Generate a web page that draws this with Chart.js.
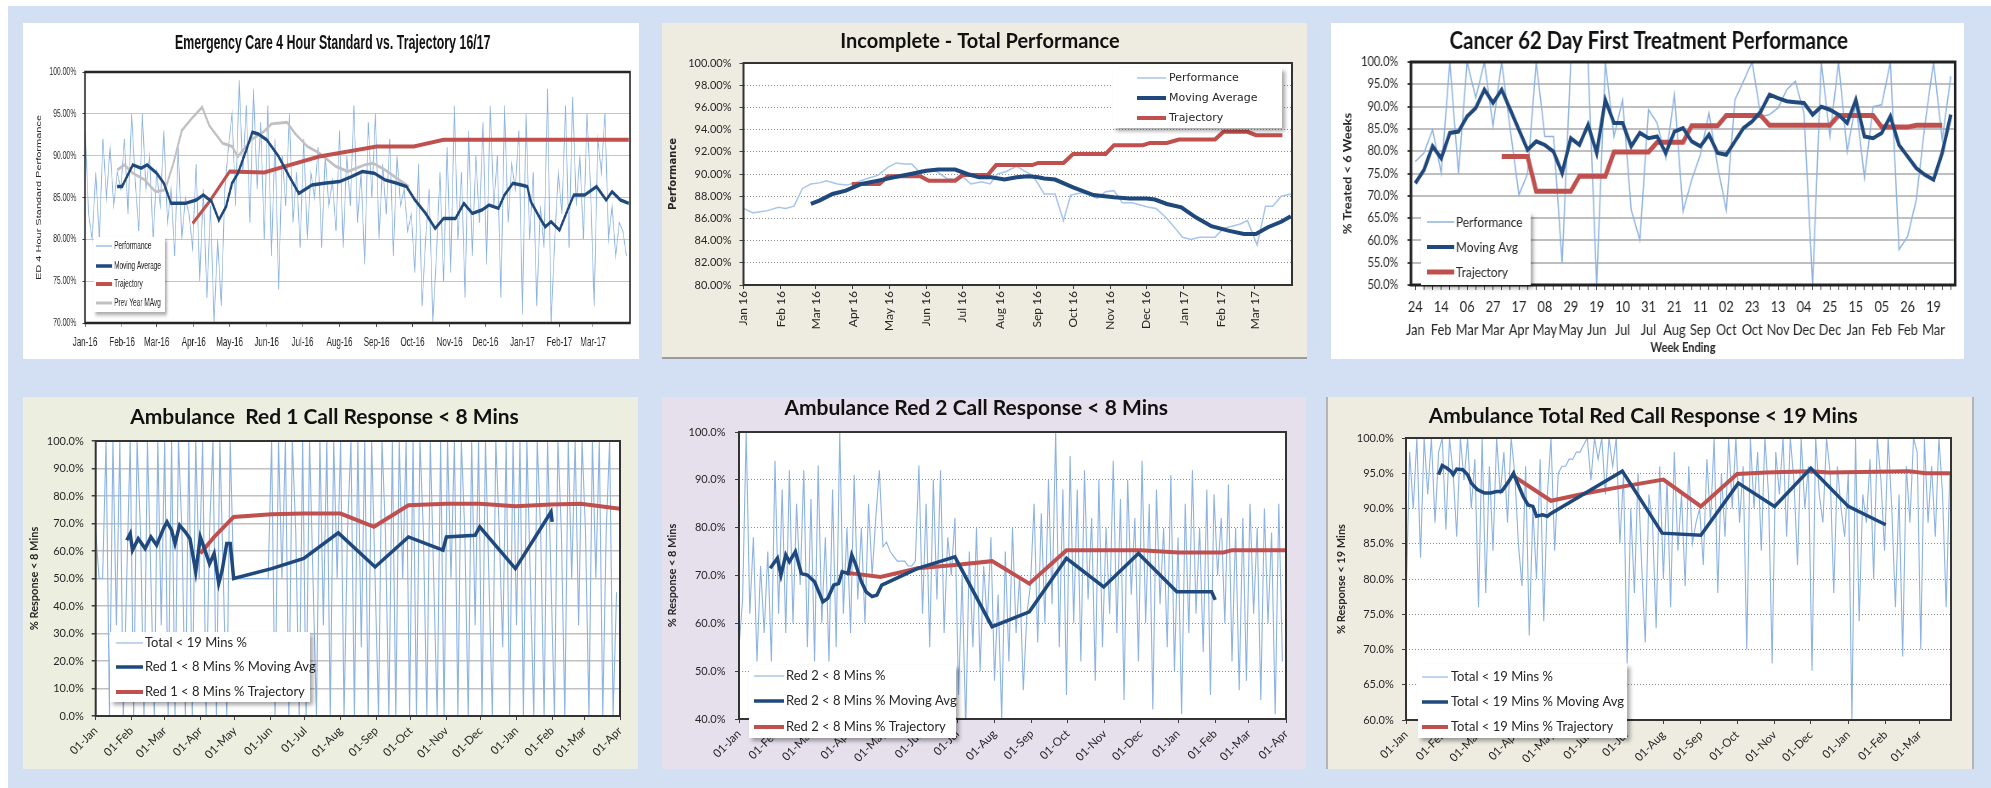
<!DOCTYPE html>
<html>
<head>
<meta charset="utf-8">
<title>Performance dashboard</title>
<script src="https://cdn.jsdelivr.net/npm/chart.js@4.4.0/dist/chart.umd.min.js"></script>
<style>
  body { margin: 0; background: #fff; width: 1991px; height: 788px; overflow: hidden; position: relative; }
  #sheet { position: absolute; left: 8px; top: 6px; right: 0; bottom: 0; background: #d3e0f3; }
  .panel { position: absolute; overflow: hidden; }
  .panel canvas { position: absolute; left: 0; top: 0; }
</style>
</head>
<body>
<div id="sheet"></div>
<div class="panel" style="left:23px;top:23px;width:616px;height:336px;background:#fff">
  <canvas id="edChart" width="994" height="336" style="width:616px;height:336px"></canvas></div>
<div class="panel" style="left:662px;top:23px;width:645px;height:334px;background:#eeece1;box-shadow:0 2px 0 #9c9c9c">
  <canvas id="incChart" width="645" height="334" style="width:645px;height:334px"></canvas></div>
<div class="panel" style="left:1331px;top:23px;width:633px;height:336px;background:#fff">
  <canvas id="cancerChart" width="772" height="336" style="width:656px;height:336px"></canvas></div>
<div class="panel" style="left:23px;top:397px;width:615px;height:372px;background:#ecefdf">
  <canvas id="red1Chart" width="615" height="372" style="width:615px;height:372px"></canvas></div>
<div class="panel" style="left:662px;top:397px;width:644px;height:372px;background:#e6e0ec">
  <canvas id="red2Chart" width="644" height="372" style="width:644px;height:372px"></canvas></div>
<div class="panel" style="left:1328px;top:397px;width:644px;height:372px;background:#eeece1;box-shadow:-2px 0 0 #b4b4b4, 2px 0 0 #b4b4b4">
  <canvas id="totalChart" width="644" height="372" style="width:644px;height:372px"></canvas></div>

<script>
// Day offsets of each month start from 1 Jan 2016 (Jan 16 .. Apr 17)
const monthStarts = [0, 31, 60, 91, 121, 152, 182, 213, 244, 274, 305, 335, 366, 397, 425, 456];
const edMonths = ['Jan-16', 'Feb-16', 'Mar-16', 'Apr-16', 'May-16', 'Jun-16', 'Jul-16', 'Aug-16', 'Sep-16', 'Oct-16', 'Nov-16', 'Dec-16', 'Jan-17', 'Feb-17', 'Mar-17'];
const incMonths = ['Jan 16', 'Feb 16', 'Mar 16', 'Apr 16', 'May 16', 'Jun 16', 'Jul 16', 'Aug 16', 'Sep 16', 'Oct 16', 'Nov 16', 'Dec 16', 'Jan 17', 'Feb 17', 'Mar 17'];
const ambMonths = ['01-Jan', '01-Feb', '01-Mar', '01-Apr', '01-May', '01-Jun', '01-Jul', '01-Aug', '01-Sep', '01-Oct', '01-Nov', '01-Dec', '01-Jan', '01-Feb', '01-Mar', '01-Apr'];

// Emergency care 4 hour standard (daily performance sampled every 3 days)
const edPerf = [94, 83, 80, 88, 80, 92, 85, 91, 84, 88, 86, 92, 83, 95, 87, 81, 95, 86, 90, 80, 88,
  84, 93, 82, 86, 78, 91, 80, 85, 83, 79, 89, 75, 86, 73, 84, 70, 80, 72, 86, 91,
  95, 84, 99, 88, 96, 82, 98, 86, 94, 80, 96, 78, 92, 74, 90, 84, 95, 82, 88, 79,
  92, 80, 88, 85, 91, 79, 90, 84, 87, 81, 93, 79, 90, 84, 96, 82, 88, 77, 94, 85,
  95, 80, 89, 83, 92, 78, 90, 84, 86, 81, 83, 76, 89, 72, 80, 86, 70, 78, 88, 75,
  91, 76, 96, 80, 88, 73, 93, 78, 90, 82, 94, 77, 96, 84, 90, 73, 96, 82, 89, 86,
  93, 71, 95, 80, 88, 72, 84, 79, 98, 70, 80, 88, 83, 96, 79, 97, 84, 90, 80,
  95, 86, 72, 92, 88, 95, 80, 84, 78, 82, 81, 78];
const edMovingAvg = [[27, 86.3], [31, 86.3], [40, 88.9], [47, 88.5], [52, 88.9], [60, 87.9], [66, 86.7], [72, 84.3], [84, 84.3], [93, 84.7],
  [99, 85.3], [106, 84.5], [112, 82.3], [118, 83.9], [123, 86.7], [128, 87.9], [135, 90.7], [140, 92.8], [145, 92.6], [152, 91.9],
  [162, 89.9], [171, 87.5], [179, 85.5], [190, 86.5], [200, 86.7], [213, 86.9], [223, 87.5], [232, 88.1], [242, 87.9], [251, 87.1],
  [261, 86.7], [269, 86.3], [276, 84.7], [285, 83.1], [293, 81.3], [300, 82.5], [310, 82.5], [317, 84.3], [324, 83.1], [332, 83.5],
  [338, 84.1], [346, 83.7], [351, 85.3], [358, 86.7], [365, 86.5], [370, 86.3], [373, 84.5], [380, 82.7], [385, 81.5], [390, 82.1],
  [397, 81.1], [406, 84.3], [409, 85.3], [418, 85.3], [428, 86.3], [436, 84.7], [441, 85.7], [448, 84.7], [455, 84.3]];
const edTrajectory = [[90, 81.9], [104, 84.5], [121, 88.1], [150, 88.0], [162, 88.5], [196, 89.9], [244, 91.1], [275, 91.1], [300, 91.9], [455, 91.9]];
const edPrevYear = [[27, 88.3], [33, 88.9], [40, 87.9], [50, 87.1], [59, 85.7], [67, 85.9], [74, 89.1], [81, 93.0], [89, 94.4], [98, 95.8],
  [104, 93.6], [115, 91.5], [123, 91.1], [128, 89.9], [139, 91.9], [149, 92.8], [156, 93.8], [169, 94.0], [176, 92.6], [186, 91.1],
  [196, 90.3], [210, 88.7], [220, 88.1], [234, 88.9], [241, 89.1], [251, 88.3], [261, 87.3], [271, 86.3]];

// Incomplete - total performance (weekly)
const incPerf = [[0, 86.9], [8, 86.5], [20, 86.7], [29, 87.0], [35, 86.9], [42, 87.1], [49, 88.7], [56, 89.1], [63, 89.2], [69, 89.4],
  [78, 89.1], [86, 89.0], [95, 89.3], [103, 89.6], [112, 89.9], [120, 90.6], [127, 91.0], [134, 90.9], [140, 90.9], [145, 90.3],
  [152, 90.4], [161, 90.2], [169, 89.6], [176, 89.5], [183, 89.7], [189, 89.1], [198, 89.3], [205, 89.1], [211, 90.0], [218, 90.2],
  [227, 90.7], [233, 90.3], [240, 89.9], [245, 89.1], [250, 88.2], [259, 88.2], [266, 85.8], [272, 88.1], [281, 88.3], [288, 88.1],
  [294, 87.8], [301, 88.4], [308, 88.5], [315, 87.4], [323, 87.4], [330, 87.2], [337, 87.0], [343, 86.9], [352, 86.0], [359, 85.1],
  [365, 84.3], [372, 84.1], [379, 84.3], [386, 84.3], [392, 84.3], [399, 85.1], [406, 85.3], [413, 85.5], [419, 85.8], [427, 83.6],
  [434, 87.1], [440, 87.1], [447, 88.0], [455, 88.2]];
const incMovingAvg = [[56, 87.3], [63, 87.6], [74, 88.2], [85, 88.5], [98, 89.1], [112, 89.4], [125, 89.7], [139, 90.0], [152, 90.3], [162, 90.4],
  [176, 90.4], [186, 90.0], [196, 89.7], [206, 89.7], [217, 89.5], [227, 89.7], [237, 89.8], [245, 89.7], [250, 89.6], [259, 89.5],
  [274, 88.8], [291, 88.1], [308, 87.9], [321, 87.8], [335, 87.8], [342, 87.7], [352, 87.3], [364, 87.0], [376, 86.1], [389, 85.3],
  [403, 84.9], [416, 84.6], [426, 84.6], [436, 85.2], [447, 85.7], [455, 86.2]];
const incTrajectory = [[90, 89.1], [113, 89.1], [120, 89.8], [147, 89.8], [154, 89.4], [176, 89.4], [182, 89.9], [203, 89.9], [210, 90.8], [240, 90.8],
  [245, 91.0], [266, 91.0], [274, 91.8], [301, 91.8], [308, 92.6], [332, 92.6], [338, 92.8], [352, 92.8], [362, 93.1], [392, 93.1],
  [399, 93.8], [419, 93.8], [426, 93.5], [448, 93.5]];

// Cancer 62 day first treatment (week ending 24 Jan 16 onwards)
const cancerDays = ['24', '14', '06', '27', '17', '08', '29', '19', '10', '31', '21', '11', '02', '23', '13', '04', '25', '15', '05', '26', '19'];
const cancerMonths = ['Jan', 'Feb', 'Mar', 'Mar', 'Apr', 'May', 'May', 'Jun', 'Jul', 'Jul', 'Aug', 'Sep', 'Oct', 'Oct', 'Nov', 'Dec', 'Dec', 'Jan', 'Feb', 'Feb', 'Mar'];
const cancerPerf = [77.7, 79.6, 84.8, 75.1, 100, 75, 100, 92, 100, 85.6,
  100, 84.8, 70.2, 75, 100, 83.3, 83.3, 54.9, 100, 100,
  100, 50, 100, 83.3, 91.5, 66.8, 60.1, 89.3, 86.3, 78.4,
  92.7, 66.5, 73.6, 79.2, 88.5, 76.6, 66.8, 91.5, 95.7, 100,
  87.8, 88.2, 89.7, 93.8, 95.7, 88.5, 50, 100, 83.3, 100,
  79.9, 90.8, 74, 90, 90.4, 100, 57.9, 60.9, 69.1, 85.9,
  100, 82.6, 96.8];
const cancerMovingAvg = [72.8, 75.8, 81.1, 78.4, 84.1, 84.4, 87.8, 89.7, 93.8, 90.8,
  93.8, 89.3, 84.8, 80.3, 82.2, 81.4, 79.9, 75.1, 82.9, 81.4,
  85.9, 79.6, 91.5, 86.3, 86.3, 81.1, 84.1, 82.9, 83.3, 79.6,
  84.4, 85.2, 82.2, 81.1, 83.7, 79.6, 79.2, 82.2, 85.2, 86.7,
  88.9, 92.7, 91.9, 91.2, 91, 90.8, 88.2, 90, 89.3, 88.2,
  86.3, 91.5, 83.3, 82.9, 84.1, 87.8, 81.4, 78.8, 76.2, 74.7,
  73.6, 79.6, 88.2];
const cancerTrajectory = [null, null, null, null, null, null, null, null, null, null,
  78.8, 78.8, 78.8, 78.8, 71, 71, 71, 71, 71, 74.4,
  74.4, 74.4, 74.4, 79.8, 79.8, 79.8, 79.8, 79.8, 82, 82,
  82, 82, 85.7, 85.7, 85.7, 85.7, 88, 88, 88, 88,
  88, 85.8, 85.8, 85.8, 85.8, 85.8, 85.8, 85.8, 85.8, 88,
  88, 88, 88, 88, 85.4, 85.4, 85.4, 85.4, 85.8, 85.8,
  85.8, 85.8, null];

// Ambulance Red 1 (daily, sampled every 3 days)
const red1Perf = [67, 50, 50, 100, 0, 100, 33, 100, 0, 50, 100,
  0, 100, 67, 0, 100, 50, 0, 100, 33, 100,
  0, 100, 0, 100, 67, 0, 100, 0, 100, 50,
  100, 0, 67, 100, 0, 100, 50, 0, 100, 50,
  50, 50, 50, 50, 50, 50, 50, 50, 50, 50,
  100, 0, 100, 50, 100, 0, 100, 67, 0, 100,
  0, 100, 50, 0, 100, 33, 100, 0, 100, 50,
  100, 0, 67, 100, 0, 100, 25, 100, 0, 100,
  50, 0, 100, 67, 0, 100, 0, 100, 50, 100,
  0, 100, 0, 100, 67, 0, 100, 50, 0, 100,
  0, 100, 50, 100, 0, 100, 67, 0, 100, 33,
  100, 0, 100, 50, 0, 100, 67, 25, 100, 0,
  100, 33, 100, 0, 100, 50, 0, 100, 67, 0,
  100, 50, 0, 100, 67, 0, 100, 50, 100, 33,
  100, 67, 0, 100, 50, 100, 0, 67, 100, 0, 45];
const red1MovingAvg = [[27, 63.9], [30, 66.3], [32, 60.3], [37, 64.5], [43, 60.9], [48, 65.1], [53, 62.1], [59, 68.2], [62, 70.6], [66, 67.6],
  [69, 62.7], [73, 69.4], [78, 66.9], [82, 64.5], [87, 52.4], [91, 65.1], [94, 61.5], [99, 55.4], [103, 59.1], [107, 48.2],
  [110, 53], [114, 62.7], [117, 62.7], [120, 50], [153, 53.6], [181, 57.3], [211, 66.6], [243, 54.2], [272, 65.1], [302, 60.3],
  [305, 65.1], [330, 65.7], [334, 68.8], [365, 53.6], [396, 74.2], [397, 70.6]];
const red1Trajectory = [[91, 59.1], [103, 65.1], [120, 72.4], [153, 73.4], [181, 73.6], [213, 73.6], [242, 68.8], [272, 76.6], [305, 77.2], [334, 77.2],
  [365, 76.3], [396, 76.9], [422, 77.2], [456, 75.4]];

// Ambulance Red 2 (daily, sampled every 3 days)
const red2Perf = [55, 65, 100, 62, 78, 52, 72, 58, 75, 52, 94,
  62, 88, 58, 92, 60, 85, 68, 92, 55, 86,
  52, 93, 60, 78, 52, 88, 55, 100, 62, 80,
  58, 91, 65, 80, 60, 85, 70, 82, 92, 76,
  77, 75, 74, 73, 73, 73, 72, 72, 73, 93,
  62, 85, 55, 90, 65, 92, 58, 78, 70, 82,
  45, 70, 38, 75, 55, 80, 50, 72, 60, 78,
  48, 66, 40, 75, 52, 80, 58, 70, 46, 62,
  68, 85, 56, 83, 60, 90, 64, 100, 55, 88,
  45, 95, 60, 88, 52, 92, 65, 82, 48, 90,
  55, 80, 62, 94, 58, 86, 44, 90, 66, 82,
  52, 94, 60, 85, 42, 88, 64, 80, 55, 91,
  50, 78, 41, 85, 58, 92, 62, 80, 54, 88,
  45, 87, 70, 82, 60, 89, 52, 80, 46, 82,
  48, 85, 62, 80, 44, 84, 60, 79, 41, 85, 52];
const red2MovingAvg = [[26, 71.5], [32, 73.6], [35, 70.1], [39, 74.3], [42, 72.9], [47, 75.0], [52, 70.4], [57, 70.1], [63, 68.7], [70, 64.5],
  [74, 65.2], [79, 68.0], [83, 68.3], [86, 70.8], [91, 70.4], [94, 74.3], [97, 72.5], [102, 68.7], [106, 66.6], [111, 65.6],
  [115, 65.9], [119, 68.0], [149, 71.5], [180, 73.9], [211, 59.3], [242, 62.4], [273, 73.6], [304, 67.6], [333, 74.6], [365, 66.6],
  [394, 66.6], [397, 64.9]];
const red2Trajectory = [[89, 70.6], [118, 69.7], [149, 71.5], [180, 72.2], [211, 73.0], [242, 68.3], [273, 75.3], [335, 75.3], [366, 74.8], [404, 74.8],
  [411, 75.3], [456, 75.3]];

// Ambulance total red < 19 mins (daily, sampled every 3 days)
const totalPerf = [76, 98, 90, 100, 83, 100, 92, 100, 88, 98, 100,
  87, 100, 95, 86, 100, 94, 100, 90, 97, 76,
  100, 78, 96, 84, 100, 92, 98, 88, 100, 95,
  85, 79, 96, 72, 90, 80, 97, 74, 92, 100,
  84, 95, 96, 96, 97, 97, 98, 98, 99, 100,
  94, 100, 97, 100, 92, 100, 96, 100, 85, 95,
  68, 90, 78, 95, 82, 71, 92, 88, 73, 96,
  80, 94, 76, 98, 84, 92, 79, 96, 85, 88,
  90, 82, 97, 88, 100, 78, 95, 86, 100, 90,
  100, 88, 96, 70, 100, 90, 98, 84, 100, 92,
  68, 98, 92, 100, 86, 100, 94, 82, 100, 90,
  96, 67, 100, 92, 88, 100, 95, 78, 96, 90,
  86, 95, 60, 100, 74, 92, 88, 97, 80, 100,
  94, 84, 100, 90, 76, 92, 69, 96, 88, 100,
  98, 70, 100, 88, 96, 86, 100, 92, 76, 95];
const totalMovingAvg = [[27, 94.8], [30, 96.1], [34, 95.7], [37, 95.3], [39, 94.8], [42, 95.6], [47, 95.5], [51, 94.8], [54, 93.6], [59, 92.7],
  [65, 92.2], [70, 92.2], [75, 92.4], [79, 92.4], [82, 93.1], [86, 94.1], [89, 95.0], [92, 93.7], [97, 91.7], [101, 90.5],
  [105, 90.3], [108, 88.9], [113, 89.1], [117, 88.9], [120, 89.3], [179, 95.3], [212, 86.5], [244, 86.2], [275, 93.6], [305, 90.3],
  [335, 95.7], [366, 90.3], [397, 87.7]];
const totalTrajectory = [[89, 94.6], [120, 91.1], [150, 92.2], [179, 93.1], [213, 94.1], [244, 90.3], [274, 94.9], [298, 95.1], [335, 95.3], [350, 95.1],
  [416, 95.3], [430, 95.0], [451, 95.0]];

const LIGHT = '#8db3e2', DARK = '#1f497d', RED = '#c0504d', GREY = '#c0c0c0', INK = '#262626';

function pairs(list) { return list.map(p => ({ x: p[0], y: p[1] })); }
function everyThird(vals) { return vals.map((v, i) => ({ x: i * 3, y: v })); }

function lineSet(label, data, color, width, order) {
  return { label, data, borderColor: color, backgroundColor: color, borderWidth: width,
    pointRadius: 0, tension: 0, fill: false, order, clip: 0 };
}

// white plot area + dark frame
const plotFrame = {
  id: 'plotFrame',
  beforeDraw(chart) {
    const a = chart.chartArea, ctx = chart.ctx;
    ctx.save();
    ctx.fillStyle = '#fff';
    ctx.fillRect(a.left, a.top, a.right - a.left, a.bottom - a.top);
    ctx.restore();
  },
  afterDatasetsDraw(chart, args, opts) {
    const a = chart.chartArea, ctx = chart.ctx;
    ctx.save();
    ctx.strokeStyle = opts.color || '#333';
    ctx.lineWidth = opts.width || 1.5;
    ctx.strokeRect(a.left, a.top, a.right - a.left, a.bottom - a.top);
    ctx.restore();
  }
};

// Excel style legend box drawn over the lines
const boxLegend = {
  id: 'boxLegend',
  afterDraw(chart, args, o) {
    if (!o.box) return;
    const ctx = chart.ctx;
    const [bx, by, bw, bh] = o.box;
    ctx.save();
    ctx.shadowColor = 'rgba(0,0,0,0.35)';
    ctx.shadowBlur = 4;
    ctx.shadowOffsetX = 3;
    ctx.shadowOffsetY = 3;
    ctx.fillStyle = '#fff';
    ctx.fillRect(bx, by, bw, bh);
    ctx.restore();
    ctx.save();
    ctx.font = o.font;
    ctx.textBaseline = 'middle';
    ctx.fillStyle = INK;
    chart.data.datasets.forEach((ds, i) => {
      const y = o.rows[i];
      ctx.strokeStyle = ds.borderColor;
      ctx.lineWidth = ds.borderWidth;
      ctx.beginPath();
      ctx.moveTo(o.line[0], y);
      ctx.lineTo(o.line[1], y);
      ctx.stroke();
      ctx.fillText(ds.label, o.textX, y);
    });
    ctx.restore();
  }
};

Chart.register(plotFrame, boxLegend);

function monthAxis(labels, max, c) {
  return {
    type: 'linear', min: 0, max: max,
    afterBuildTicks: s => { s.ticks = monthStarts.slice(0, labels.length).map(v => ({ value: v })); },
    afterFit: s => { s.height = c.height; },
    ticks: { autoSkip: false, callback: (v, i) => labels[i], font: c.font, color: INK,
      padding: c.padding, minRotation: c.rot, maxRotation: c.rot },
    grid: { drawOnChartArea: false, drawTicks: true, tickLength: 4, tickColor: '#404040' },
    border: { display: false }
  };
}

function pctAxis(min, max, step, dec, c) {
  return {
    min: min, max: max,
    afterFit: s => { s.width = c.width; },
    ticks: { stepSize: step, callback: v => v.toFixed(dec) + '%', font: c.font, color: INK, padding: c.padding },
    grid: { color: c.gridColor, lineWidth: c.gridWidth, drawTicks: true, tickLength: 4, tickColor: '#404040', tickBorderDash: [] },
    border: { display: false, dash: c.dash || [] },
    title: { display: true, text: c.title, font: c.titleFont, color: INK, padding: 0 }
  };
}

function chartOptions(o) {
  return {
    responsive: false, animation: false, events: [], devicePixelRatio: 1,
    layout: { padding: o.padding },
    plugins: {
      legend: { display: false },
      tooltip: { enabled: false },
      title: { display: true, text: o.title, color: '#111', font: o.titleFont, padding: o.titlePad },
      plotFrame: o.frame || {},
      boxLegend: o.legend
    },
    scales: { x: o.x, y: o.y }
  };
}

const ARIAL = "'Liberation Sans', Arial, sans-serif";
const LATO = "Lato, 'Noto Sans', sans-serif";

// Panel 1 - drawn wide, squeezed by CSS to look condensed
new Chart(document.getElementById('edChart'), {
  type: 'line',
  data: { datasets: [
    lineSet('Performance', everyThird(edPerf), LIGHT, 1.3, 4),
    lineSet('Moving Average', pairs(edMovingAvg), DARK, 3.5, 1),
    lineSet('Trajectory', pairs(edTrajectory), RED, 4, 2),
    lineSet('Prev Year MAvg', pairs(edPrevYear), GREY, 3, 3)
  ] },
  options: chartOptions({
    padding: { left: 20, right: 14.5, top: 0, bottom: 0 },
    title: 'Emergency Care 4 Hour Standard vs. Trajectory 16/17',
    titleFont: { family: ARIAL, size: 20, weight: 'bold', lineHeight: 1 },
    titlePad: { top: 10, bottom: 19 },
    frame: { color: '#262626', width: 2.5 },
    legend: { box: [114, 214, 115, 75], rows: [223, 243, 261, 280], line: [118, 144], textX: 147, font: "10.5px " + ARIAL },
    x: monthAxis(edMonths, 456, { height: 36, font: { family: ARIAL, size: 13 }, padding: 8, rot: 0 }),
    y: pctAxis(70, 100, 5, 2, { width: 80, font: { family: ARIAL, size: 11 }, padding: 10,
      gridColor: '#c6c6c6', gridWidth: 1, title: 'ED 4 Hour Standard Performance',
      titleFont: { family: ARIAL, size: 11, lineHeight: 1 } })
  })
});

// Panel 2
new Chart(document.getElementById('incChart'), {
  type: 'line',
  data: { datasets: [
    lineSet('Performance', pairs(incPerf), '#a7c6ea', 1.5, 3),
    lineSet('Moving Average', pairs(incMovingAvg), DARK, 4, 1),
    lineSet('Trajectory', pairs(incTrajectory), RED, 4, 2)
  ] },
  options: chartOptions({
    padding: { left: 6, right: 15, top: 0, bottom: 0 },
    title: 'Incomplete - Total Performance',
    titleFont: { family: LATO, size: 20, weight: 'bold', lineHeight: 1 },
    titlePad: { top: 9, bottom: 11 },
    frame: { color: '#333', width: 2 },
    legend: { box: [451, 45, 169, 60], rows: [55, 75, 95], line: [475, 504], textX: 507, font: "11px 'DejaVu Sans'" },
    x: monthAxis(incMonths, 456, { height: 72, font: { family: LATO, size: 12 }, padding: 2, rot: 90 }),
    y: pctAxis(80, 100, 2, 2, { width: 75.5, font: { family: LATO, size: 11 }, padding: 8,
      gridColor: '#8c8c8c', gridWidth: 1, dash: [1, 2], title: 'Performance',
      titleFont: { family: "'DejaVu Sans'", size: 10, weight: 'bold', lineHeight: 1 } })
  })
});

// Panel 3 - weekly category axis, slightly condensed
const cancerWeeks = cancerPerf.map((v, i) => i % 3 === 0 ? [cancerDays[i / 3], cancerMonths[i / 3]] : '');
new Chart(document.getElementById('cancerChart'), {
  type: 'line',
  data: { labels: cancerWeeks, datasets: [
    lineSet('Performance', cancerPerf, LIGHT, 1.5, 3),
    lineSet('Moving Avg', cancerMovingAvg, DARK, 4, 1),
    lineSet('Trajectory', cancerTrajectory, RED, 5, 2)
  ] },
  options: chartOptions({
    padding: { left: 13.5, right: 37.5, top: 0, bottom: 0 },
    title: 'Cancer 62 Day First Treatment Performance',
    titleFont: { family: LATO, size: 24, weight: 'bold', lineHeight: 1 },
    titlePad: { top: 6, bottom: 9 },
    frame: { color: '#222', width: 3 },
    legend: { box: [106, 190, 129, 72], rows: [199, 224, 249], line: [113, 145], textX: 147, font: "14px " + LATO },
    x: {
      type: 'category', offset: true,
      afterFit: s => { s.height = 74; },
      ticks: { autoSkip: false, minRotation: 0, maxRotation: 0, color: INK, padding: 6,
        font: { family: LATO, size: 15, lineHeight: 1.5 } },
      grid: { drawOnChartArea: false, tickLength: 5, tickColor: '#404040' },
      border: { display: false },
      title: { display: true, text: 'Week Ending', color: INK,
        font: { family: LATO, size: 13, weight: 'bold', lineHeight: 1 }, padding: { top: 0, bottom: 4.5 } }
    },
    y: pctAxis(50, 100, 5, 1, { width: 80.6, font: { family: LATO, size: 13 }, padding: 11,
      gridColor: '#bfbfbf', gridWidth: 2, title: '% Treated < 6 Weeks',
      titleFont: { family: LATO, size: 13, weight: 'bold', lineHeight: 1 } })
  })
});

// Panels 4-6: ambulance response
function ambulanceChart(id, cfg) {
  new Chart(document.getElementById(id), {
    type: 'line',
    data: { datasets: [
      lineSet(cfg.names[0], everyThird(cfg.perf), LIGHT, 1.1, 3),
      lineSet(cfg.names[1], pairs(cfg.avg), DARK, 3.5, 1),
      lineSet(cfg.names[2], pairs(cfg.traj), RED, 4, 2)
    ] },
    options: chartOptions({
      padding: cfg.padding,
      title: cfg.title,
      titleFont: { family: LATO, size: 21, weight: 'bold', lineHeight: 1 },
      titlePad: cfg.titlePad,
      frame: { color: '#333', width: 2 },
      legend: cfg.legend,
      x: monthAxis(cfg.months, cfg.max, { height: cfg.xHeight, font: { family: LATO, size: 11.5 }, padding: 4, rot: 45 }),
      y: pctAxis(cfg.min, 100, cfg.step, 1, { width: cfg.yWidth, font: { family: LATO, size: 11 }, padding: cfg.yPad,
        gridColor: cfg.gridColor, gridWidth: cfg.gridWidth, dash: cfg.dash, title: cfg.yTitle,
        titleFont: { family: LATO, size: 11, weight: 'bold', lineHeight: 1 } })
    })
  });
}

ambulanceChart('red1Chart', {
  title: 'Ambulance  Red 1 Call Response < 8 Mins',
  names: ['Total < 19 Mins %', 'Red 1 < 8 Mins % Moving Avg', 'Red 1 < 8 Mins % Trajectory'],
  perf: red1Perf, avg: red1MovingAvg, traj: red1Trajectory,
  months: ambMonths, max: 456, min: 0, step: 10,
  padding: { left: 6, right: 18, top: 0, bottom: 0 }, titlePad: { top: 9.5, bottom: 13.5 },
  xHeight: 53, yWidth: 66.7, yPad: 8, gridColor: '#c0c0c0', gridWidth: 1.5, dash: [],
  yTitle: '% Response < 8 Mins',
  legend: { box: [87, 235, 200, 70], rows: [246, 270, 295], line: [93, 120], textX: 122, font: "13px " + LATO }
});

ambulanceChart('red2Chart', {
  title: 'Ambulance Red 2 Call Response < 8 Mins',
  names: ['Red 2 < 8 Mins %', 'Red 2 < 8 Mins % Moving Avg', 'Red 2 < 8 Mins % Trajectory'],
  perf: red2Perf, avg: red2MovingAvg, traj: red2Trajectory,
  months: ambMonths, max: 456, min: 40, step: 10,
  padding: { left: 4.5, right: 20, top: 0, bottom: 0 }, titlePad: { top: 0.5, bottom: 13.5 },
  xHeight: 50, yWidth: 72.5, yPad: 9.5, gridColor: '#8c8c8c', gridWidth: 1, dash: [1, 2],
  yTitle: '% Response < 8 Mins',
  legend: { box: [87, 268, 207, 73], rows: [279, 304, 330], line: [92, 122], textX: 124, font: "13px " + LATO }
});

ambulanceChart('totalChart', {
  title: 'Ambulance Total Red Call Response < 19 Mins',
  names: ['Total < 19 Mins %', 'Total < 19 Mins % Moving Avg', 'Total < 19 Mins % Trajectory'],
  perf: totalPerf, avg: totalMovingAvg, traj: totalTrajectory,
  months: ambMonths.slice(0, 15), max: 451, min: 60, step: 5,
  padding: { left: 7.5, right: 21, top: 0, bottom: 0 }, titlePad: { top: 8.5, bottom: 11.5 },
  xHeight: 49, yWidth: 70.5, yPad: 8.3, gridColor: '#8c8c8c', gridWidth: 1, dash: [1, 2],
  yTitle: '% Response < 19 Mins',
  legend: { box: [90, 267, 209, 74], rows: [280, 305, 330], line: [94, 120], textX: 123, font: "13px " + LATO }
});
</script>
</body>
</html>
